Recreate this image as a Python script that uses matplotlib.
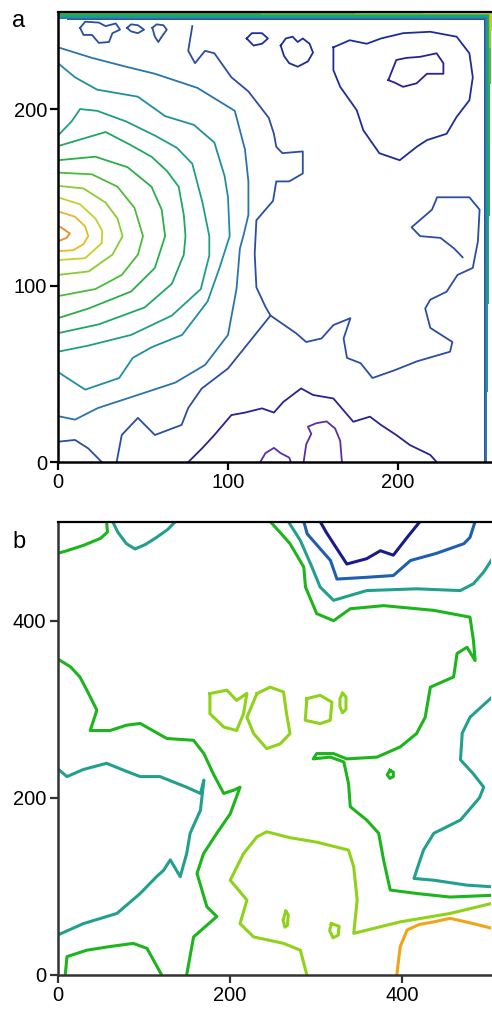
import matplotlib
matplotlib.use("Agg")
import matplotlib.pyplot as plt

plt.rcParams['font.family'] = ['Liberation Sans', 'DejaVu Sans']

# ---------------- panel a : isolines (x, y) ----------------
# level 1 = top of the hill on the left edge ... level 14 = lowest (bottom middle)
A_COLORS = ['#ee8a28', '#e8b82a', '#c4d02c', '#8ccc2e', '#4cbb3a', '#2aae4a',
            '#1fa764', '#1f9e86', '#1f8fa0', '#2a74ac', '#2a4ea2', '#1d2e94',
            '#2b2190', '#5a2ea6']

A_L1 = [(0, 134), (4, 131.5), (7, 129.5), (5, 127), (0, 125)]
A_L2 = [(0, 142), (10, 139), (16, 133.5), (17.8, 128), (15, 123.5), (9, 120), (0, 119.5)]
A_L3 = [(0, 150), (13, 146), (22, 138), (26, 131), (25.7, 124), (16, 115.5), (0, 114.4)]
A_L4 = [(0, 156.5), (15, 155), (28, 147), (35, 138), (38, 128), (32, 117.5), (18, 108), (0, 106)]
A_L5 = [(0, 164), (20, 163), (35, 156), (45, 144), (50, 128), (47, 117.5), (37.5, 106),
        (22, 98), (0, 94)]
A_L6 = [(0, 171), (22, 173), (41, 167), (55, 156), (61, 143), (63, 128), (57, 110),
        (43, 96.6), (18, 87), (0, 81.5)]
A_L7 = [(0, 179), (14, 183), (28, 187), (42, 180), (55, 173), (64, 165), (71, 156),
        (74, 140), (75, 128), (74, 117.5), (67, 101), (51, 87.6), (24, 78), (0, 73)]
A_L8 = [(0, 185), (8, 193), (13, 200), (23, 199), (40, 193), (57, 185), (70, 178),
        (79, 169), (85, 147), (89, 128), (89, 117), (84, 98), (67, 83), (43, 72),
        (18, 66), (0, 62.5)]
A_L9 = [(0, 226), (10, 218), (23, 211), (47, 207), (63, 196), (80, 191), (92, 181),
        (98, 162), (100, 150), (101, 128), (95, 110), (88, 91), (73, 72), (55, 65),
        (44, 59), (36, 47.6), (16, 41), (0, 51)]
A_L10 = [(0, 235), (20, 229), (40, 224), (57, 220), (82, 212), (104, 199), (110, 177),
         (112, 159), (112, 140), (109, 128), (107, 121), (105, 98), (100, 72),
         (86.5, 55), (69, 45), (47, 38), (23.5, 30.6), (10, 24), (0, 26)]
A_MAIN = [(79, 247), (76.6, 233), (80.6, 226), (86.5, 233), (92, 231.6), (102, 218),
          (112, 210), (117.6, 203), (124, 195), (127, 186), (128.4, 178.6), (132, 175),
          (144, 176), (144, 163.5), (136, 159), (128.4, 159), (126.5, 148), (116.7, 137),
          (115.7, 118), (116.7, 99), (122, 88), (125, 83), (110, 65), (100, 53),
          (84.5, 41.6), (76.6, 30.6), (72.7, 21), (57, 15.3), (47, 25), (37.5, 15.3),
          (34.5, 0)]
A_MAIN_RIGHT = [(125, 83), (140, 73), (146, 68), (155, 70), (162, 77.6), (172, 81.5),
                (168, 70), (170, 59), (178, 56), (185, 47.6), (198, 52), (211, 57),
                (230.6, 62.5), (232, 68), (219, 76), (216, 87), (219, 92), (228.6, 96.5),
                (235, 106), (244, 110), (247, 125), (248, 143), (242, 150), (223, 150),
                (220, 143), (208, 133), (213, 128), (225, 127), (233, 121), (238, 116)]
A_CORNER = [(0, 11.5), (10, 12.5), (17.8, 7.7), (25.7, 0)]
A_BLOB1 = [(13, 246), (16, 249.5), (24, 249), (28, 247), (34, 248.5), (36.5, 245),
           (32, 243), (30, 238), (24, 237.5), (20, 242), (15, 242), (13, 246)]
A_BLOB2 = [(40.6, 246), (43, 248), (47, 247.5), (50.6, 245), (47, 243), (43, 244), (40.6, 246)]
A_BLOB3 = [(55.5, 246), (58, 248), (62, 247.5), (64, 245), (61, 241), (59, 238),
           (57, 241), (55.5, 246)]
A_BLOB4 = [(131, 236), (134, 240), (138, 241), (141, 238), (144, 240), (148, 237),
           (150, 232), (147, 227), (141, 224), (136, 226), (133, 230), (131, 236)]
A_BLOB5 = [(111, 240), (114, 243), (120, 243), (123.5, 240), (120, 237), (115, 236), (111, 240)]
A_HEART = [(162, 235), (171.6, 239), (181.6, 237), (190, 240), (203, 243), (219, 243.8),
           (234.5, 241), (242, 231.6), (244, 218), (242, 205), (234.5, 195.6),
           (228.6, 186), (217, 182.4), (211, 178.6), (201, 171), (189, 175),
           (179.6, 188), (175.7, 199.4), (166, 212.6), (162, 222), (162, 235)]
A_HEART_IN = [(194.3, 216.4), (199, 227.8), (205, 229), (213, 229.6), (222.7, 231.6),
              (226.7, 226), (226.7, 220), (217, 220), (211, 214.6), (203, 212.6),
              (198, 215), (194.3, 216.4)]
A_LOW = [(76.7, 0), (85, 8), (92, 15.3), (102, 26.6), (110, 28), (120, 30.4), (127, 28),
         (132.5, 34), (143, 41.7), (150, 38), (162, 36), (173.7, 22.8), (183.5, 25.7),
         (190, 21), (199, 15.3), (207, 9.6), (219, 4), (222.7, 0)]
A_LOWER = [(144.5, 0), (146, 10), (149, 16), (147, 20), (152, 22), (158, 23),
           (163, 19), (166, 12), (167, 0)]
A_LOWEST = [(119, 0), (122, 5), (127, 8), (131, 5), (136, 2.5), (137, 0)]

A_LINES = [(A_L1, 1), (A_L2, 2), (A_L3, 3), (A_L4, 4), (A_L5, 5), (A_L6, 6), (A_L7, 7),
           (A_L8, 8), (A_L9, 9), (A_L10, 10), (A_MAIN, 11), (A_MAIN_RIGHT, 11),
           (A_CORNER, 11), (A_BLOB1, 11), (A_BLOB2, 11), (A_BLOB3, 11), (A_BLOB4, 12),
           (A_BLOB5, 12), (A_HEART, 12), (A_HEART_IN, 13), (A_LOW, 13), (A_LOWER, 14),
           (A_LOWEST, 14)]

# isolines crowded against the top and right borders of panel a
A_EDGE_LEVEL = [11, 10, 9, 8, 7, 6, 5, 4, 3, 2]
A_EDGE_INSET = [4.0, 3.4, 2.8, 2.2, 1.7, 1.25, 0.9, 0.6, 0.35, 0.15]
A_EDGE_Y0 = [0, 0, 40, 90, 140, 180, 215, 235, 245, 250]
A_EDGE_X0 = [6, 0, 0, 0, 0, 0, 120, 175, 215, 238]

# ---------------- panel b ----------------
# level 1 = lowest (navy) ... 6 = highest (orange)
B_COLORS = ['#1a1a8e', '#1f5fb0', '#22a08c', '#1cb51c', '#8ed21a', '#f0a416']

B_GREEN_TL = [(0, 476), (11, 479), (30, 485), (50, 493), (58, 500), (57, 512)]
B_TEAL_TL = [(64, 512), (70, 500), (80, 487), (90, 481), (102, 486), (115, 494),
             (128, 503), (137, 512)]
B_NAVY = [(305, 512), (312, 500), (320.6, 487), (336, 464), (359, 470), (375, 479),
          (390, 474), (406, 494), (421, 512)]
B_BLUE = [(286, 512), (290, 498), (317, 468), (324.5, 447), (359, 449), (390, 451),
          (410, 468), (440, 476), (472, 487), (479, 494), (485, 512)]
B_TEAL_TOP = [(268, 512), (282, 490.6), (295.5, 460.5), (305, 438), (320.6, 423),
              (359, 434), (417, 436), (467.8, 434), (483, 441.7), (495, 455), (505, 470)]
B_GREEN_BIG = [(247, 512), (260, 498), (270, 487), (286, 460.5), (288, 438), (301, 408),
               (320.6, 400), (340, 413.5), (378.7, 417), (436.8, 411.7), (479, 404),
               (483, 378), (485, 355), (475.5, 370), (464, 363), (460, 336.5), (433, 325),
               (427, 291), (417, 272.6), (398, 257.5), (371, 246), (336, 244),
               (320.6, 250), (301, 250), (297, 244), (316.7, 246), (332.5, 240.6),
               (338, 216), (340, 190), (359, 175), (373, 160), (378.7, 129.7),
               (386.4, 95.9), (417.4, 92), (456, 88), (505, 90)]
B_GREEN_LEFT = [(0, 357), (15, 348), (26, 336.5), (36, 318), (45.7, 299), (38, 276),
                (61, 276), (80, 282), (96, 284), (127, 267), (158, 265), (170, 250),
                (181, 227), (193, 205), (204.5, 208.6), (212, 212), (200.6, 182),
                (185, 160), (169.6, 137), (162, 114.7), (173.5, 77), (185, 66),
                (158, 43), (150, 0)]
B_TEAL_LEFT = [(0, 233), (11, 224), (30, 232), (57, 239), (80, 230), (96, 224),
               (119, 224), (150, 212), (166, 205), (170, 220), (166, 186), (154, 160),
               (150, 137), (142.5, 111), (131, 130), (123, 118), (115, 111), (96, 92),
               (69, 69.5), (30, 58), (0, 45)]
B_GREEN_BL = [(9, 0), (11, 20.7), (34, 28), (60, 32), (88, 35.7), (104, 30), (121, 0)]
B_LGREEN = [(505, 81), (456, 69.5), (398, 60), (344, 47), (348, 84.6), (344, 122),
            (338, 141), (301, 150), (270, 155), (243, 161.7), (231.6, 156), (216, 137),
            (200.6, 107), (220, 84.6), (212, 58), (227.7, 43), (262.5, 35.7), (282, 28),
            (289.6, 0)]
B_ORANGE = [(394, 0), (398, 32), (406, 50.8), (420, 57), (437, 60), (456, 64),
            (483, 58), (505, 52.6)]
B_TEAL_RIGHT = [(505, 314), (479, 291), (470, 273), (468, 243), (483, 227), (495, 212),
                (490, 200), (468, 175), (437, 160), (425, 141), (417, 118), (414, 109),
                (437, 107), (475, 101.5), (505, 99.6)]
B_ISLAND1 = [(177, 317.7), (196.7, 321.6), (208, 310), (220, 318), (216, 295), (208, 276),
             (193, 280), (185, 287.6), (177, 295), (177, 317.7)]
B_ISLAND2 = [(231.6, 317.7), (247, 325), (262.5, 319.5), (266, 295), (270, 272.6),
             (258.7, 261), (243, 255.6), (227.7, 272.6), (220, 291), (231.6, 317.7)]
B_ISLAND3 = [(289.6, 312), (305, 315.8), (318.7, 308), (316.7, 287.6), (305, 283.8),
             (287.7, 287.6), (289.6, 312)]
B_ISLAND4 = [(331, 318), (335, 314), (335, 300), (331, 296), (328, 303), (328, 312), (331, 318)]
B_ISLAND5 = [(265, 72), (268, 68), (267, 56), (264, 54), (262, 62), (265, 72)]
B_ISLAND6 = [(318, 58), (327, 55), (326, 45), (320, 42), (316, 50), (318, 58)]
B_DOT = [(386, 231), (390, 229), (390, 224), (386, 222), (383, 226), (386, 231)]

B_LINES = [(B_GREEN_TL, 4), (B_TEAL_TL, 3), (B_NAVY, 1), (B_BLUE, 2), (B_TEAL_TOP, 3),
           (B_GREEN_BIG, 4), (B_GREEN_LEFT, 4), (B_TEAL_LEFT, 3), (B_GREEN_BL, 4),
           (B_LGREEN, 5), (B_ORANGE, 6), (B_TEAL_RIGHT, 3), (B_ISLAND1, 5),
           (B_ISLAND2, 5), (B_ISLAND3, 5), (B_ISLAND4, 5), (B_ISLAND5, 5),
           (B_ISLAND6, 5), (B_DOT, 4)]


def style_axes(ax, xticks, yticks, xmax, ymax, spine_color):
    ax.set_xlim(0, xmax)
    ax.set_ylim(0, ymax)
    ax.set_xticks(xticks)
    ax.set_yticks(yticks)
    ax.spines['right'].set_visible(False)
    for side in ['left', 'bottom']:
        ax.spines[side].set_linewidth(1.8)
        ax.spines[side].set_color(spine_color)
    ax.spines['top'].set_linewidth(1.6)
    ax.spines['top'].set_color('black')
    ax.tick_params(direction='out', length=6, width=1.6, labelsize=14.5, pad=2,
                   color=spine_color)


fig = plt.figure(figsize=(4.92, 10.10), dpi=100)

ax_a = fig.add_axes([58 / 492, 1 - 462 / 1010, 433.5 / 492, 450 / 1010])
for pts, lev in A_LINES:
    xs = [p[0] for p in pts]
    ys = [p[1] for p in pts]
    ax_a.plot(xs, ys, color=A_COLORS[lev - 1], lw=1.3, solid_joinstyle='round')
for lev, ins, y0, x0 in zip(A_EDGE_LEVEL, A_EDGE_INSET, A_EDGE_Y0, A_EDGE_X0):
    xs = [255 - ins, 255 - ins, x0]
    ys = [y0, 255 - ins, 255 - ins]
    ax_a.plot(xs, ys, color=A_COLORS[lev - 1], lw=1.4)
style_axes(ax_a, [0, 100, 200], [0, 100, 200], 255, 255, 'black')

ax_b = fig.add_axes([57.5 / 492, 1 - 975 / 1010, 434 / 492, 453.5 / 1010])
for pts, lev in B_LINES:
    xs = [p[0] for p in pts]
    ys = [p[1] for p in pts]
    ax_b.plot(xs, ys, color=B_COLORS[lev - 1], lw=2.2, solid_joinstyle='round')
style_axes(ax_b, [0, 200, 400], [0, 200, 400], 504, 512, '#333333')

fig.text(12 / 492, 1 - 27 / 1010, 'a', fontsize=17)
fig.text(12 / 492, 1 - 548 / 1010, 'b', fontsize=17)

fig.savefig('out.png', dpi=100)
